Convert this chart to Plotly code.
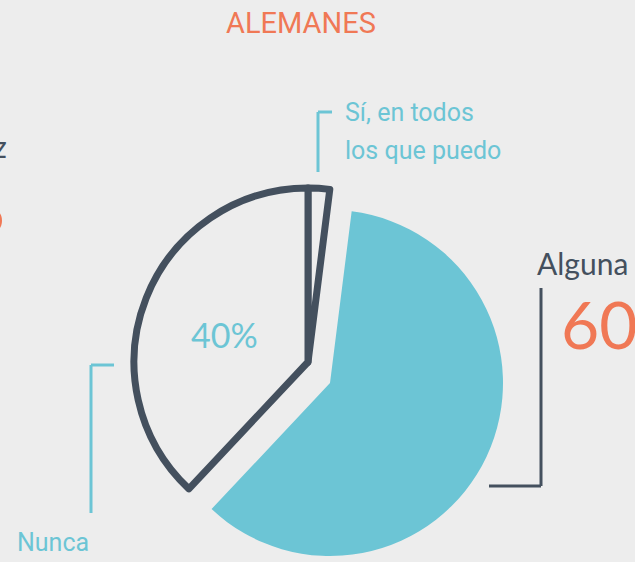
import plotly.graph_objects as go

W, H = 635, 562

# ---- data ----
labels = ["Sí, en todos los que puedo", "Alguna vez", "Nunca"]
values = [2, 60, 38]
pct_labels = ["", "60%", "40%"]
title_text = "ALEMANES"

BG = "#ededed"
DARK = "#44505e"
TEAL = "#6cc5d5"
ORANGE = "#f07855"
NARROW = "Roboto, sans-serif"
SANS = "Lato, Open Sans, sans-serif"


def px(x):
    return x / W


def py(y):
    return 1 - y / H


def dom(cx, cy, r):
    return dict(x=[px(cx - r), px(cx + r)], y=[py(cy + r), py(cy - r)])


fig = go.Figure()

# outlined slices (Sí / Nunca), teal slice hidden
fig.add_trace(go.Pie(
    labels=labels, values=values, sort=False, direction="clockwise", rotation=0,
    domain=dom(308, 362, 174),
    marker=dict(colors=[BG, "rgba(0,0,0,0)", BG],
                line=dict(color=[DARK, "rgba(0,0,0,0)", DARK], width=[7, 0, 7])),
    textinfo="none", hoverinfo="label+percent", showlegend=False,
))

# exploded teal slice (Alguna vez)
fig.add_trace(go.Pie(
    labels=labels, values=values, sort=False, direction="clockwise", rotation=0,
    domain=dom(330, 383, 173),
    marker=dict(colors=["rgba(0,0,0,0)", TEAL, "rgba(0,0,0,0)"],
                line=dict(width=0)),
    textinfo="none", hoverinfo="label+percent", showlegend=False,
))

shapes = []


def seg(x0, y0, x1, y1, color):
    shapes.append(dict(type="line", xref="paper", yref="paper",
                       x0=px(x0), y0=py(y0), x1=px(x1), y1=py(y1),
                       line=dict(color=color, width=3)))


# Sí bracket
seg(318, 112, 318, 172, TEAL)
seg(318, 112, 332, 112, TEAL)
# Nunca bracket
seg(91, 365, 91, 513, TEAL)
seg(91, 365, 114, 365, TEAL)
# Alguna vez bracket
seg(541, 288, 541, 486, DARK)
seg(489, 486, 541, 486, DARK)

ann = []


def text(t, x, y, size, color, family, xanchor="left", weight=None):
    f = dict(size=size, color=color, family=family)
    if weight:
        f["weight"] = weight
    ann.append(dict(text=t, x=px(x), y=py(y), xref="paper", yref="paper",
                    xanchor=xanchor, yanchor="middle", showarrow=False, font=f))


text(title_text, 301, 23, 29, ORANGE, NARROW, "center")
text("Sí, en todos", 343, 113, 25, TEAL, NARROW)
text("los que puedo", 343, 151, 25, TEAL, NARROW)
text(labels[2], 15, 542, 25, TEAL, NARROW)
text(labels[1], 535, 263, 30, DARK, SANS)
text(pct_labels[1], 559, 323, 66, ORANGE, SANS)
text(pct_labels[2], 224, 334, 34, TEAL, SANS, "center")
# neighbouring chart, cut at the left edge
text(labels[1], 9, 146, 30, DARK, SANS, "right")
text("%", 7, 206, 66, ORANGE, SANS, "right")

fig.update_layout(
    width=W, height=H,
    margin=dict(l=0, r=0, t=0, b=0),
    paper_bgcolor=BG, plot_bgcolor=BG,
    shapes=shapes, annotations=ann,
    showlegend=False,
)

fig.write_html(
    "out.html",
    config={"displayModeBar": False},
    post_script="document.body.style.margin='0';document.body.style.background='#ededed';",
)
